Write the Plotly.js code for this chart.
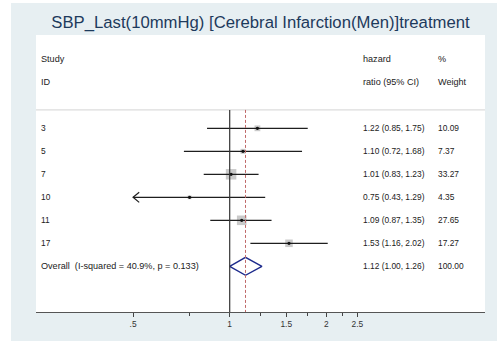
<!DOCTYPE html>
<html><head><meta charset="utf-8">
<script src="https://cdn.plot.ly/plotly-3.0.1.min.js"></script>
<style>html,body{margin:0;padding:0;background:#fff}#chart{width:497px;height:341px}</style>
</head><body><div id="chart"></div>
<script>
const studyIds = ['3','5','7','10','11','17'];
const hazardRatio = [1.22,1.10,1.01,0.75,1.09,1.53];
const ciLower = [0.85,0.72,0.83,0.43,0.87,1.16];
const ciUpper = [1.75,1.68,1.23,1.29,1.35,2.02];
const weights = [10.09,7.37,33.27,4.35,27.65,17.27];
const overallLabel = 'Overall\u00a0\u00a0(I-squared = 40.9%, p = 0.133)';
const overallHR = 1.12, overallLower = 1.00, overallUpper = 1.26, overallWeight = 100.00;
const xTickVals = [0.5,1,1.5,2,2.5];
const xTickText = ['.5','1','1.5','2','2.5'];
const xMinorVals = [0.75,1.25,1.75,2.25];
const headerLeft = ['Study','ID'];
const headerMid = ['hazard','ratio (95% CI)'];
const headerRight = ['%','Weight'];

const n = studyIds.length;
const rows = studyIds.map((_, i) => i);
const overallRow = n;
const headerRows = [-3, -2];
const xClip = xTickVals[0];

const font = 'Liberation Sans, Arial, sans-serif';
const txtColor = '#222';
const fsText = 9.1, fsNum = 8.4;

// CI lines (clipped at lowest tick)
const ciX = [], ciY = [];
rows.forEach(i => { ciX.push(Math.max(ciLower[i], xClip), ciUpper[i], null); ciY.push(i, i, null); });
// arrow chevrons for clipped intervals
const arX = [], arY = [];
rows.forEach(i => { if (ciLower[i] < xClip) { arX.push(xClip * 1.045, xClip, xClip * 1.045, null); arY.push(i - 0.22, i, i + 0.22, null); } });

const maxW = Math.max(...weights);
const traces = [
  {x: hazardRatio, y: rows, mode: 'markers', type: 'scatter', hoverinfo: 'skip',
   marker: {symbol: 'square', color: '#b4b4b4', size: weights.map(w => 10.5 * Math.sqrt(w / maxW)), line: {width: 0}}},
  {x: ciX, y: ciY, mode: 'lines', type: 'scatter', line: {color: '#1e1e1e', width: 1.3}, hoverinfo: 'skip'},
  {x: arX, y: arY, mode: 'lines', type: 'scatter', line: {color: '#1e1e1e', width: 1.2}, hoverinfo: 'skip'},
  {x: hazardRatio, y: rows, mode: 'markers', type: 'scatter', hoverinfo: 'skip',
   marker: {symbol: 'circle', color: '#111', size: 3.2}},
  {x: [overallLower, overallHR, overallUpper, overallHR, overallLower],
   y: [overallRow, overallRow - 0.39, overallRow, overallRow + 0.39, overallRow],
   mode: 'lines', type: 'scatter', line: {color: '#1c2a8c', width: 1.4}, hoverinfo: 'skip'}
];

const colL = (39 - 36) / 449, colM = (360.5 - 36) / 449, colR = (435.7 - 36) / 449;
const ann = [];
function addText(x, y, t, size) {
  ann.push({xref: 'paper', yref: 'y', x: x, y: y, text: t, showarrow: false, xanchor: 'left', yanchor: 'middle',
            font: {family: font, size: size, color: txtColor}});
}
headerRows.forEach((r, k) => { addText(colL, r, headerLeft[k], fsText); addText(colM, r, headerMid[k], fsText); addText(colR, r, headerRight[k], fsText); });
rows.forEach(i => {
  addText(colL, i, studyIds[i], fsNum);
  addText(colM, i, hazardRatio[i].toFixed(2) + ' (' + ciLower[i].toFixed(2) + ', ' + ciUpper[i].toFixed(2) + ')', fsNum);
  addText(colR, i, weights[i].toFixed(2), fsNum);
});
addText(colL, overallRow, overallLabel, fsText);
addText(colM, overallRow, overallHR.toFixed(2) + ' (' + overallLower.toFixed(2) + ', ' + overallUpper.toFixed(2) + ')', fsNum);
addText(colR, overallRow, overallWeight.toFixed(2), fsNum);

const sepY = -0.8;
const yTop = -4.057, yBot = 7.987;
const shapes = [
  {type: 'rect', xref: 'paper', yref: 'paper', x0: -36/449, x1: -25/449, y0: -29/277, y1: 1 + 35/277, fillcolor: '#fff', line: {width: 0}, layer: 'below'},
  {type: 'rect', xref: 'paper', yref: 'paper', x0: -36/449, x1: 1 + 12/449, y0: 1 + 32/277, y1: 1 + 35/277, fillcolor: '#fff', line: {width: 0}, layer: 'below'},
  {type: 'line', xref: 'paper', yref: 'y', x0: 0, x1: 1, y0: sepY, y1: sepY, line: {color: '#dcdcdc', width: 1.2}},
  {type: 'line', xref: 'x', yref: 'y', x0: 1, x1: 1, y0: sepY, y1: yBot, line: {color: '#333', width: 1.2}},
  {type: 'line', xref: 'x', yref: 'y', x0: overallHR, x1: overallHR, y0: sepY, y1: yBot, line: {color: '#c06a6a', width: 1, dash: '3px,2px'}}
];

const layout = {
  width: 497, height: 341,
  margin: {l: 36, r: 12, t: 35, b: 29, pad: 0},
  paper_bgcolor: '#e7eff2', plot_bgcolor: '#ffffff',
  showlegend: false,
  title: {text: 'SBP_Last(10mmHg) [Cerebral Infarction(Men)]treatment', x: 0.5, xref: 'paper', xanchor: 'center',
          y: 1 - 22/341, yref: 'container', yanchor: 'middle', font: {family: font, size: 16.7, color: '#1d3a5c'}},
  xaxis: {type: 'log', range: [-0.6034, 0.7953], tickmode: 'array', tickvals: xTickVals, ticktext: xTickText,
          ticks: 'outside', ticklen: 4, tickwidth: 1, tickcolor: '#444', showgrid: false, zeroline: false,
          showline: true, linecolor: '#555', linewidth: 1.4, tickfont: {family: font, size: fsNum, color: '#333'},
          minor: {tickvals: xMinorVals, ticks: 'outside', ticklen: 3, tickwidth: 1, tickcolor: '#444', showgrid: false},
          fixedrange: true},
  yaxis: {range: [yBot, yTop], showgrid: false, zeroline: false, showticklabels: false, showline: false, ticks: '', fixedrange: true},
  shapes: shapes, annotations: ann
};
Plotly.newPlot('chart', traces, layout, {displayModeBar: false, staticPlot: true});
</script></body></html>
